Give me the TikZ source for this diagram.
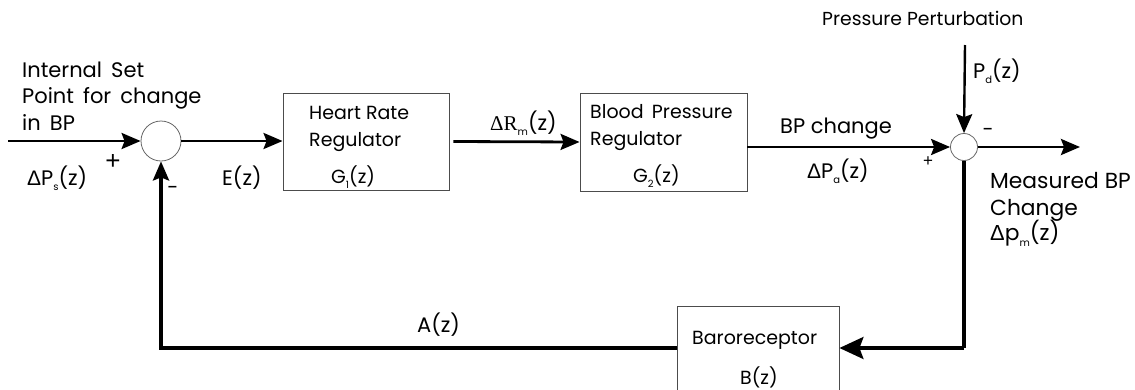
\documentclass[tikz,border=0pt]{standalone}
\usepackage{fontspec}
\setmainfont{Poppins}
\newfontfamily\dfont{Liberation Sans}
\newfontfamily\sfont{Liberation Serif}
\usetikzlibrary{arrows.meta}
\newcommand{\lsub}[1]{\raisebox{-0.28em}{\fontsize{10}{10}\selectfont #1}}
\newcommand{\dd}{{\dfont\symbol{"0394}}}
\tikzset{
  lbl/.style={inner sep=0pt, font=\fontsize{21}{21}\selectfont, anchor=base west},
  blbl/.style={inner sep=0pt, font=\fontsize{19}{19}\selectfont, anchor=base west},
  blk/.style={draw=black!70, line width=0.9pt, rectangle, inner sep=0pt},
  sumj/.style={draw=black!60, line width=0.8pt, circle, inner sep=0pt},
  sig/.style={line width=2.8pt, -{Stealth[length=19pt,width=16pt,inset=3pt]}},
  plain/.style={line width=3.2pt}
}
\begin{document}
\begin{tikzpicture}[x=1pt,y=-1pt]
\useasboundingbox (0,0) rectangle (1135,389);
% junctions and blocks
\node[sumj, minimum size=40pt] (s1) at (161,141) {};
\node[blk, minimum width=166pt, minimum height=97pt] (g1) at (366,141.5) {};
\node[blk, minimum width=167pt, minimum height=98pt] (g2) at (663.5,142) {};
\node[sumj, minimum size=27pt] (s2) at (964,147) {};
\node[blk, minimum width=162pt, minimum height=84pt] (br) at (758,348) {};
% free ends
\coordinate (in) at (8,141);
\coordinate (out) at (1080,147);
\coordinate (pd) at (965,45);
\coordinate (c2) at (964,348);
% connectors
\draw[sig] (in) -- (s1.west);
\draw[sig] (s1.east) -- (s1.east -| g1.west);
\draw[sig] ([xshift=4pt]g1.east) -- (g2.west);
\draw[sig] (g2.east |- s2.west) -- (s2.west);
\draw[sig] (s2.east) -- (out);
\draw[sig, line width=2.4pt] (pd) -- (s2.north);
\draw[plain] (s2.south) -- (c2);
\draw[line width=3.2pt, -{Stealth[length=24pt,width=22pt,inset=4pt]}] (c2) -- (br.east);
\draw[line width=3.6pt, -{Stealth[length=19pt,width=16pt,inset=3pt]}] (br.west) -| (s1.south);
% texts
\node[lbl] (t1) at (22,77) {Internal\, Set};
\node[lbl] (t2) at (22,103) {Point\, for\, change};
\node[lbl] (t3) at (22,130) {in\, BP};
\node[lbl] (ps) at (27,185) {\dd P\lsub{s}(z)};
\node[inner sep=0pt, font=\fontsize{26}{26}\selectfont\dfont] (p1) at (113,162) {+};
\node[inner sep=0pt, font=\fontsize{20}{20}\selectfont] (m1) at (173,190) {-};
\node[lbl] (ez) at (222,185) {E(z)};
\node[blbl] (h1) at (309,119) {Heart Rate};
\node[blbl] (h2) at (309,146) {Regulator};
\node[blbl] (h3) at (331,183) {G\lsub{1}(z)};
\node[lbl] (rm) at (490,130) {{\sfont\symbol{"0394}R}\lsub{m}(z)};
\node[blbl] (b1) at (590,118) {Blood\, Pressure};
\node[blbl] (b2) at (590,145) {Regulator};
\node[blbl] (b3) at (633,182) {G\lsub{2}(z)};
\node[lbl] (bp) at (780,133) {BP change};
\node[lbl] (pa) at (807,178) {\dd P\lsub{a}(z)};
\node[inner sep=0pt, font=\fontsize{17}{17}\selectfont\dfont] (p2) at (928,162) {+};
\node[inner sep=0pt, font=\fontsize{20}{20}\selectfont] (m2) at (988,132) {-};
\node[inner sep=0pt, anchor=base west, font=\fontsize{18.8}{18.8}\selectfont] (pp) at (822,25) {Pressure Perturbation};
\node[lbl] (pdz) at (973,78) {P\lsub{d}(z)};
\node[lbl, font=\fontsize{21.8}{21.8}\selectfont] (mb1) at (990,188) {Measured BP};
\node[lbl, font=\fontsize{21.8}{21.8}\selectfont] (mb2) at (990,215) {Change};
\node[lbl, font=\fontsize{21.8}{21.8}\selectfont] (mb3) at (990,240) {\dd p\lsub{m}(z)};
\node[lbl] (az) at (417,332) {A(z)};
\node[blbl] (r1) at (692,344) {Baroreceptor};
\node[blbl] (r2) at (740,384) {B(z)};
\end{tikzpicture}
\end{document}
